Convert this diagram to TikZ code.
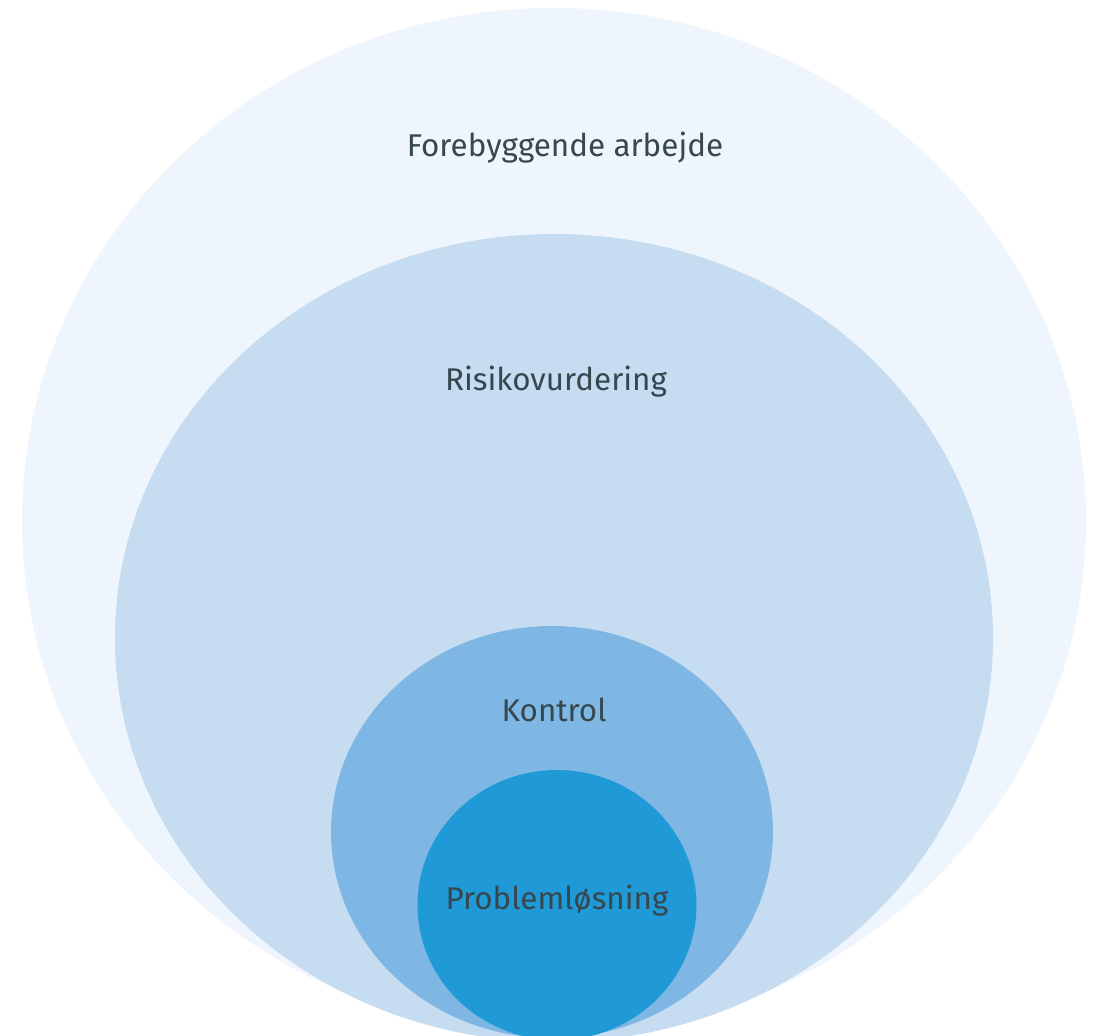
\documentclass[tikz,border=0pt]{standalone}
\usepackage{fontspec}
\setmainfont{Fira Sans}
\usetikzlibrary{shapes.geometric}
\definecolor{cpale}{HTML}{EFF5FC}
\definecolor{clight}{HTML}{C6DCF1}
\definecolor{cmid}{HTML}{7EB7E3}
\definecolor{cdeep}{HTML}{1F9AD6}
\definecolor{ctext}{HTML}{37474F}
\tikzset{
  ring/.style={ellipse, fill=#1, draw=none, inner sep=0pt},
  tag/.style={font=\fontsize{15.7}{18}\selectfont, text=ctext, inner sep=0pt},
}

\begin{document}
\begin{tikzpicture}[x=0.5pt, y=-0.5pt]
  \useasboundingbox (0,0) rectangle (1093,1035);
  \clip (0,0) rectangle (1093,1035);
  % nested areas, all touching at the bottom (sizes in pt = half a unit)
  \node[ring=cpale, minimum width=532pt, minimum height=513pt] (forebyg) at (554,521) {};
  \node[ring=clight, minimum width=439pt, minimum height=404pt] (risiko) at (554,638) {};
  \node[ring=cmid, minimum width=221pt, minimum height=206pt] (kontrol) at (552,832) {};
  \node[ring=cdeep, minimum width=139.5pt, minimum height=135pt] (problem) at (557,905) {};
  % labels
  \node[tag] (forebyglbl) at (565,148) {Forebyggende arbejde};
  \node[tag] (risikolbl) at (556,382) {Risikovurdering};
  \node[tag] (kontrollbl) at (554,710) {Kontrol};
  \node[tag] (problemlbl) at (557,901) {Problemløsning};
\end{tikzpicture}
\end{document}
